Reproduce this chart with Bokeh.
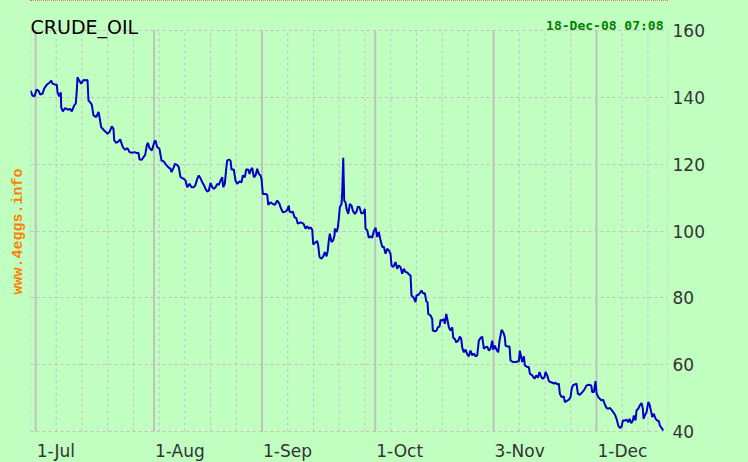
import numpy as np
from bokeh.plotting import figure
from bokeh.models import (FixedTicker, Grid, Label, LabelSet, ColumnDataSource,
                          Range1d, Title, GlobalInlineStyleSheet)
from bokeh.core.properties import value
from bokeh.embed import file_html
from bokeh.resources import INLINE

# ---------------- data ----------------
title_text = "CRUDE_OIL"
stamp_text = "18-Dec-08 07:08"
watermark_text = "www.4eggs.info"

origin = "2008-06-30"          # business-day 0
month_dates = ["2008-07-01", "2008-08-01", "2008-09-01", "2008-10-01", "2008-11-03", "2008-12-01"]
month_labels = ["1-Jul", "1-Aug", "1-Sep", "1-Oct", "3-Nov", "1-Dec"]
y_ticks = [40, 60, 80, 100, 120, 140, 160]
x_end = 123.8                  # business days shown

# time in business days since 2008-06-30, and price (USD)
t_jul = [0.00, 0.39, 0.78, 1.17, 1.55, 1.89, 2.33, 2.66, 3.17, 3.63,
         4.02, 4.28, 4.80, 5.11, 5.25, 5.58, 5.89, 5.97, 6.28, 6.74,
         7.25, 7.72, 8.03, 8.49, 8.80, 9.00, 9.13, 9.47, 9.85, 10.30,
         10.75, 11.08, 11.27, 11.60, 11.91, 12.24, 12.77, 13.22, 13.41, 13.74,
         14.19, 14.52, 14.97, 15.35, 15.80, 16.13, 16.27, 16.66, 17.10, 17.43,
         17.94, 18.41, 18.85, 19.24, 19.69, 20.21, 20.66, 20.99, 21.19, 21.63,
         21.96, 22.29, 22.60, 22.80, 23.13, 23.58, 24.10]
p_jul = [142.0, 140.5, 140.3, 142.3, 142.0, 140.8, 141.1, 142.6, 143.8, 144.3,
         145.0, 144.1, 143.8, 143.8, 141.5, 140.3, 141.5, 137.0, 135.8, 136.8,
         136.3, 136.5, 135.8, 137.6, 138.1, 142.0, 146.0, 145.0, 144.1, 145.2,
         145.1, 145.2, 139.1, 138.5, 137.8, 134.6, 134.1, 135.6, 134.1, 131.1,
         130.3, 129.8, 129.1, 129.6, 131.3, 130.6, 127.1, 126.4, 126.8, 127.4,
         125.1, 124.3, 124.8, 123.6, 123.4, 123.6, 123.3, 123.4, 121.4, 121.3,
         122.1, 122.8, 125.6, 126.4, 124.8, 124.1, 126.8]

t_aug = [24.30, 24.62, 25.07, 25.46, 25.91, 26.37, 26.76, 27.21, 27.41, 27.85,
         28.05, 28.51, 28.82, 29.15, 29.80, 30.13, 30.46, 30.90, 31.29, 31.74,
         32.07, 32.40, 32.71, 33.04, 33.37, 33.68, 34.01, 34.34, 34.66, 34.99,
         35.32, 35.63, 35.96, 36.29, 36.60, 36.93, 37.26, 37.45, 37.76, 38.04,
         38.23, 38.54, 38.87, 39.07, 39.51, 39.84, 40.17, 40.62, 41.01, 41.26,
         41.65, 41.92, 42.31, 42.57, 42.76, 43.09, 43.40, 43.73, 44.06, 44.37,
         44.70, 44.90, 45.15, 45.68, 46.01, 46.20, 46.65, 47.09, 47.48, 47.95,
         48.40, 48.59, 49.04]
p_aug = [127.1, 125.1, 124.6, 121.1, 120.8, 119.8, 119.1, 118.6, 117.6, 119.1,
         120.1, 119.8, 119.1, 116.1, 115.6, 115.1, 113.1, 114.1, 113.1, 113.1,
         113.8, 115.6, 116.6, 115.8, 114.6, 113.8, 112.6, 111.8, 112.1, 114.4,
         113.1, 112.6, 113.1, 114.1, 113.8, 115.1, 116.1, 113.1, 114.1, 118.6,
         121.1, 121.4, 121.1, 118.4, 118.4, 115.1, 114.1, 114.8, 114.6, 116.6,
         116.1, 118.4, 118.4, 117.1, 118.1, 118.9, 116.1, 116.6, 118.6, 117.1,
         116.6, 115.6, 111.1, 111.1, 110.8, 107.8, 108.6, 108.1, 107.8, 109.1,
         108.1, 107.1, 105.6]

t_sep = [49.56, 49.89, 50.20, 50.34, 50.73, 50.98, 51.31, 51.64, 51.95, 52.48,
         52.81, 53.12, 53.45, 53.78, 54.09, 54.42, 54.75, 54.95, 55.26, 55.72,
         55.92, 56.17, 56.56, 56.89, 57.20, 57.53, 57.78, 57.98, 58.17, 58.50,
         58.83, 59.09, 59.14, 59.47, 59.73, 59.92, 60.12, 60.45, 60.58, 60.78,
         60.97, 61.22, 61.42, 61.75, 62.06, 62.39, 62.64, 63.03, 63.36, 63.62,
         63.95, 64.28, 64.67, 64.98, 65.11, 65.44, 65.75, 66.08, 66.41, 66.72,
         67.06, 67.39, 67.70, 68.03, 68.36, 68.67, 69.00, 69.33, 69.64, 69.97,
         70.17, 70.50, 70.94, 71.27, 71.58, 71.91, 72.24, 72.56, 72.89, 73.22,
         73.53, 73.86, 74.05, 74.50]
p_sep = [105.8, 106.3, 107.6, 105.8, 105.6, 105.8, 104.1, 103.9, 102.2, 102.6,
         102.4, 102.0, 100.7, 101.4, 100.7, 101.1, 100.4, 96.0, 96.4, 97.0,
         95.7, 92.2, 91.7, 92.4, 93.7, 92.4, 94.2, 97.2, 99.2, 96.7,
         97.2, 98.7, 100.7, 99.7, 101.0, 103.7, 107.1, 108.1, 111.6, 121.9,
         109.1, 108.6, 106.6, 105.1, 108.1, 107.6, 106.1, 105.1, 105.8, 107.3,
         107.1, 105.3, 105.3, 106.6, 100.7, 100.2, 98.0, 98.4, 98.0, 99.9,
         101.0, 98.2, 99.7, 97.2, 95.2, 95.3, 93.2, 94.7, 94.2, 93.2,
         89.7, 89.2, 90.7, 88.7, 89.7, 89.2, 87.2, 88.7, 87.7, 87.6,
         87.0, 86.7, 80.7, 80.0]

t_oct = [74.83, 75.02, 75.47, 76.00, 76.25, 76.64, 76.91, 77.16, 77.30, 77.75,
         78.07, 78.19, 78.58, 78.91, 79.16, 79.49, 79.69, 80.02, 80.33, 80.53,
         80.80, 81.05, 81.30, 81.63, 81.96, 82.16, 82.47, 82.74, 83.13, 83.44,
         83.71, 83.91, 84.22, 84.55, 84.88, 85.19, 85.52, 85.85, 86.16, 86.49,
         86.82, 87.13, 87.46, 87.79, 88.11, 88.44, 88.77, 89.08, 89.41, 89.74,
         89.93, 90.24, 90.57, 90.90, 91.16, 91.55, 91.88, 92.19, 92.32, 92.77,
         93.10, 93.29, 93.74, 94.27, 94.91, 95.10, 95.37, 95.57, 95.88, 96.08,
         96.54, 96.85, 97.05, 97.51, 97.96, 98.29, 98.60, 98.93, 99.26, 99.57,
         99.90]
p_oct = [78.7, 80.7, 81.0, 82.2, 81.4, 81.4, 79.0, 78.7, 75.2, 74.7,
         73.7, 70.2, 70.0, 70.2, 71.2, 71.4, 73.4, 73.2, 73.7, 72.2,
         75.2, 73.4, 71.2, 70.2, 71.2, 68.0, 67.7, 66.7, 67.2, 68.4,
         67.7, 65.1, 63.7, 64.5, 63.1, 62.5, 64.2, 62.8, 63.3, 62.5,
         62.8, 67.2, 68.0, 68.4, 64.8, 65.2, 65.4, 64.2, 64.8, 67.2,
         64.5, 65.7, 64.5, 63.7, 67.2, 70.4, 69.7, 68.2, 65.7, 65.4,
         65.4, 61.3, 60.8, 60.8, 61.0, 64.2, 62.2, 60.8, 62.5, 59.8,
         59.3, 59.3, 57.3, 56.8, 55.8, 56.8, 56.1, 57.8, 56.3, 55.8,
         56.3]

t_dec = [100.10, 100.43, 100.74, 101.07, 101.40, 101.71, 102.04, 102.37, 102.68, 102.88,
         103.21, 103.65, 103.85, 104.18, 104.62, 104.96, 105.15, 105.40, 105.79, 106.12,
         106.38, 106.76, 107.09, 107.42, 107.74, 108.07, 108.51, 108.98, 109.17, 109.49,
         109.81, 110.01, 110.34, 110.65, 110.98, 111.31, 111.62, 111.95, 112.28, 112.59,
         112.92, 113.25, 113.57, 113.90, 114.23, 114.54, 114.87, 115.12, 115.51, 115.84,
         116.17, 116.42, 116.75, 117.06, 117.26, 117.59, 117.78, 118.11, 118.42, 118.76,
         119.01, 119.14, 119.40, 119.73, 120.06, 120.31, 120.64, 120.83, 121.15, 121.48,
         121.81, 122.12, 122.31, 122.64, 122.97]
p_dec = [57.8, 56.8, 55.1, 54.8, 54.6, 54.3, 54.6, 54.1, 54.3, 51.3,
         50.3, 50.5, 48.8, 49.1, 49.5, 50.3, 52.5, 53.8, 54.1, 54.3,
         51.3, 51.0, 51.5, 52.1, 52.8, 53.8, 54.0, 53.8, 51.8, 51.8,
         55.1, 51.5, 50.3, 49.8, 49.3, 49.5, 48.1, 47.1, 46.8, 47.1,
         46.5, 45.8, 45.1, 43.8, 41.8, 41.1, 41.3, 43.3, 43.3, 43.5,
         42.8, 43.8, 42.5, 43.3, 44.8, 43.3, 46.3, 46.8, 47.8, 48.5,
         46.8, 43.8, 44.8, 45.8, 48.8, 48.1, 45.8, 44.3, 45.3, 43.8,
         43.3, 43.1, 41.8, 41.1, 40.3]

# ---------------- assemble ----------------
t_all, p_all = [], []
for ts, ps in [(t_jul, p_jul), (t_aug, p_aug), (t_sep, p_sep), (t_oct, p_oct), (t_dec, p_dec)]:
    n = min(len(ts), len(ps))
    t_all += ts[:n]
    p_all += ps[:n]

month_pos = [int(v) for v in np.busday_count(origin, month_dates)]
week_pos = list(range(0, int(x_end) + 1, 5))   # Mondays
edge_pos = week_pos + [x_end]

# ---------------- layout / style ----------------
W, H = 748, 462
PL, PT, PR, PB = 30, 30, 667, 431        # pixel box of the price panel
y_min, y_max = y_ticks[0], y_ticks[-1]
k = (y_max - y_min) / (PB - PT)          # price units per pixel
y_range = Range1d(y_min - (H - PB) * k, y_max + PT * k)

BG = "#c0ffc0"
GRID = "#c8bec8"
TXT = "#333333"

p = figure(width=W, height=H, output_backend="svg", toolbar_location=None, title=None,
           x_range=Range1d(0, x_end), y_range=y_range,
           x_axis_location=None, y_axis_location="right",
           min_border_left=PL, min_border_right=W - PR,
           min_border_top=0, min_border_bottom=0,
           background_fill_color=BG, border_fill_color=BG)
p.grid.visible = False
p.outline_line_color = None

# horizontal dotted grid
p.add_layout(Grid(dimension=1, ticker=FixedTicker(ticks=y_ticks),
                  grid_line_color=GRID, grid_line_dash="3 3", grid_line_width=1))
# weekly dotted verticals (and right edge)
p.segment(x0=edge_pos, y0=[y_min] * len(edge_pos), x1=edge_pos, y1=[y_max] * len(edge_pos),
          line_color=GRID, line_dash="3 3", line_width=1)
# month solid verticals
p.segment(x0=month_pos, y0=[y_min] * len(month_pos), x1=month_pos, y1=[y_max] * len(month_pos),
          line_color="#c0c0c0", line_width=2)

ax = p.yaxis[0]
ax.ticker = FixedTicker(ticks=y_ticks)
ax.axis_line_color = None
ax.major_tick_line_color = None
ax.minor_tick_line_color = None
ax.major_tick_out = 0
ax.major_tick_in = 0
ax.major_label_standoff = 5
ax.major_label_text_font = "DejaVu Sans"
ax.major_label_text_font_size = "17px"
ax.major_label_text_color = TXT

p.line(t_all, p_all, line_color="#0000c8", line_width=2)

# month labels, left-aligned at the month lines
msrc = ColumnDataSource(dict(x=month_pos, text=month_labels))
p.add_layout(LabelSet(x="x", y=H - 456, y_units="screen", text="text", source=msrc,
                      x_offset=1, text_align=value("left"), text_baseline=value("alphabetic"),
                      text_font=value("DejaVu Sans"), text_font_size=value("17px"),
                      text_color=TXT))

p.add_layout(Label(x=0, y=H - 26, x_units="screen", y_units="screen", text=title_text,
                   text_font="DejaVu Sans", text_font_size="19px", text_color="black",
                   text_align="left", text_baseline="alphabetic"))
p.add_layout(Label(x=663 - PL, y=H - 25, x_units="screen", y_units="screen", text=stamp_text,
                   text_font="DejaVu Sans Mono", text_font_style="bold", text_font_size="13px",
                   text_color="#008000", text_align="right", text_baseline="alphabetic"))

p.add_layout(Title(text=watermark_text, align="center", standoff=7,
                   text_font="Liberation Mono", text_font_style="bold", text_font_size="15px",
                   text_color="#ff8000"), "left")

p.stylesheets = [GlobalInlineStyleSheet(css=(
    "html,body{background:#c0ffc0;}"
    "body::before{content:'';position:absolute;left:30px;top:0;width:638px;"
    "border-top:1px dotted #ff0000;}"))]

open("out.html", "w").write(file_html(p, INLINE))
